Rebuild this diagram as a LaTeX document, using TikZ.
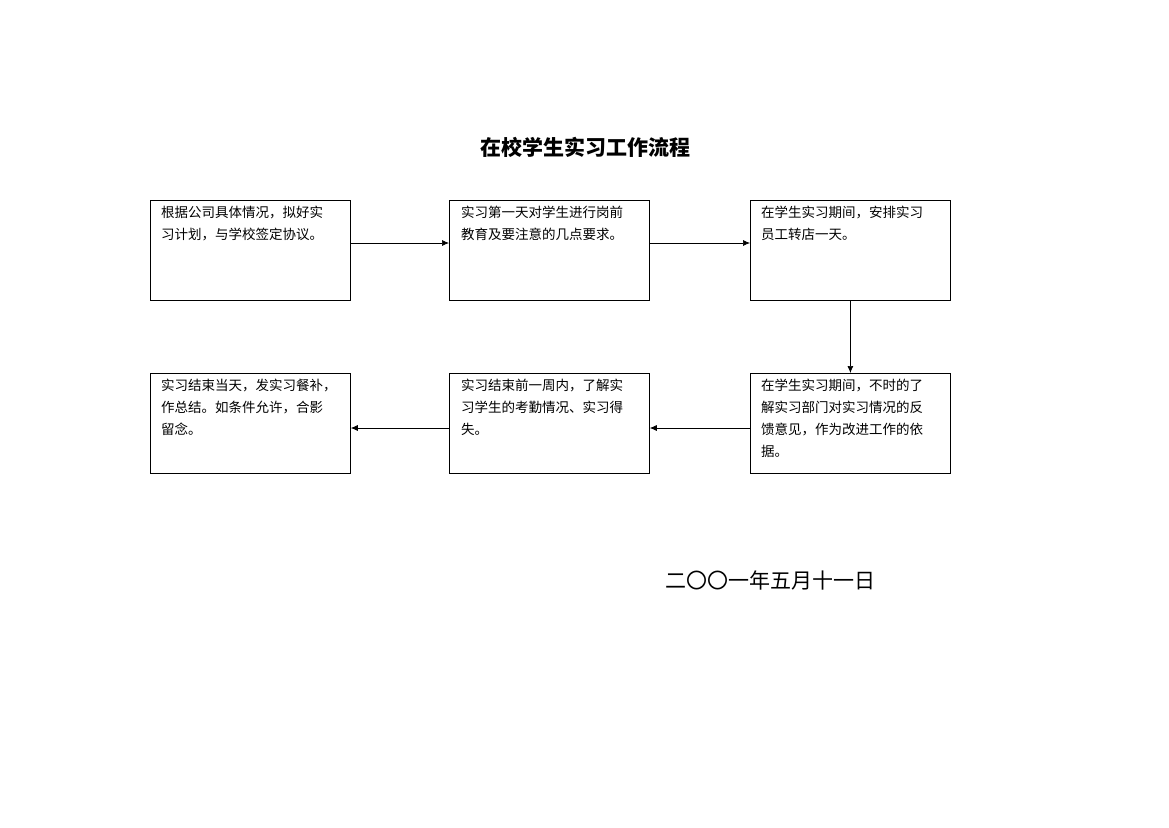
\documentclass[tikz,border=0pt]{standalone}
\usepackage{fontspec}
\newfontfamily\cjk{Noto Sans CJK SC}
\usetikzlibrary{arrows.meta}
\begin{document}
\begin{tikzpicture}[x=1pt,y=-1pt,
  box/.style={draw,line width=0.8pt,minimum width=200pt,minimum height=100pt,anchor=north west},
  txt/.style={anchor=north west,align=left,inner sep=0pt,font=\cjk\fontsize{13.5}{22}\selectfont},
  arr/.style={-{Latex[length=7pt,width=6pt]},line width=0.7pt}]
\useasboundingbox (0,0) rectangle (1169,827);
\node[font=\cjk\bfseries\fontsize{21}{24}\selectfont] (title) at (585,147) {在校学生实习工作流程};
\node[box] (b1) at (150,200) {};
\node[box] (b2) at (449,200) {};
\node[box] (b3) at (750,200) {};
\node[box] (b4) at (750,373) {};
\node[box] (b5) at (449,373) {};
\node[box] (b6) at (150,373) {};
\node[txt] (t1) at (161,206) {根据公司具体情况，拟好实\\习计划，与学校签定协议。};
\node[txt] (t2) at (461,206) {实习第一天对学生进行岗前\\教育及要注意的几点要求。};
\node[txt] (t3) at (761,206) {在学生实习期间，安排实习\\员工转店一天。};
\node[txt] (t4) at (761,379) {在学生实习期间，不时的了\\解实习部门对实习情况的反\\馈意见，作为改进工作的依\\据。};
\node[txt] (t5) at (461,379) {实习结束前一周内，了解实\\习学生的考勤情况、实习得\\失。};
\node[txt] (t6) at (161,379) {实习结束当天，发实习餐补，\\作总结。如条件允许，合影\\留念。};
\draw[arr] (b1.east |- 0,243) -- (b2.west |- 0,243);
\draw[arr] (b2.east |- 0,243) -- (b3.west |- 0,243);
\draw[arr] (b3.south) -- (b4.north);
\draw[arr] (b4.west |- 0,428) -- (b5.east |- 0,428);
\draw[arr] (b5.west |- 0,428) -- (b6.east |- 0,428);
\node[font=\cjk\fontsize{21}{24}\selectfont,anchor=west] (date) at (662,580) {二〇〇一年五月十一日};
\end{tikzpicture}
\end{document}
